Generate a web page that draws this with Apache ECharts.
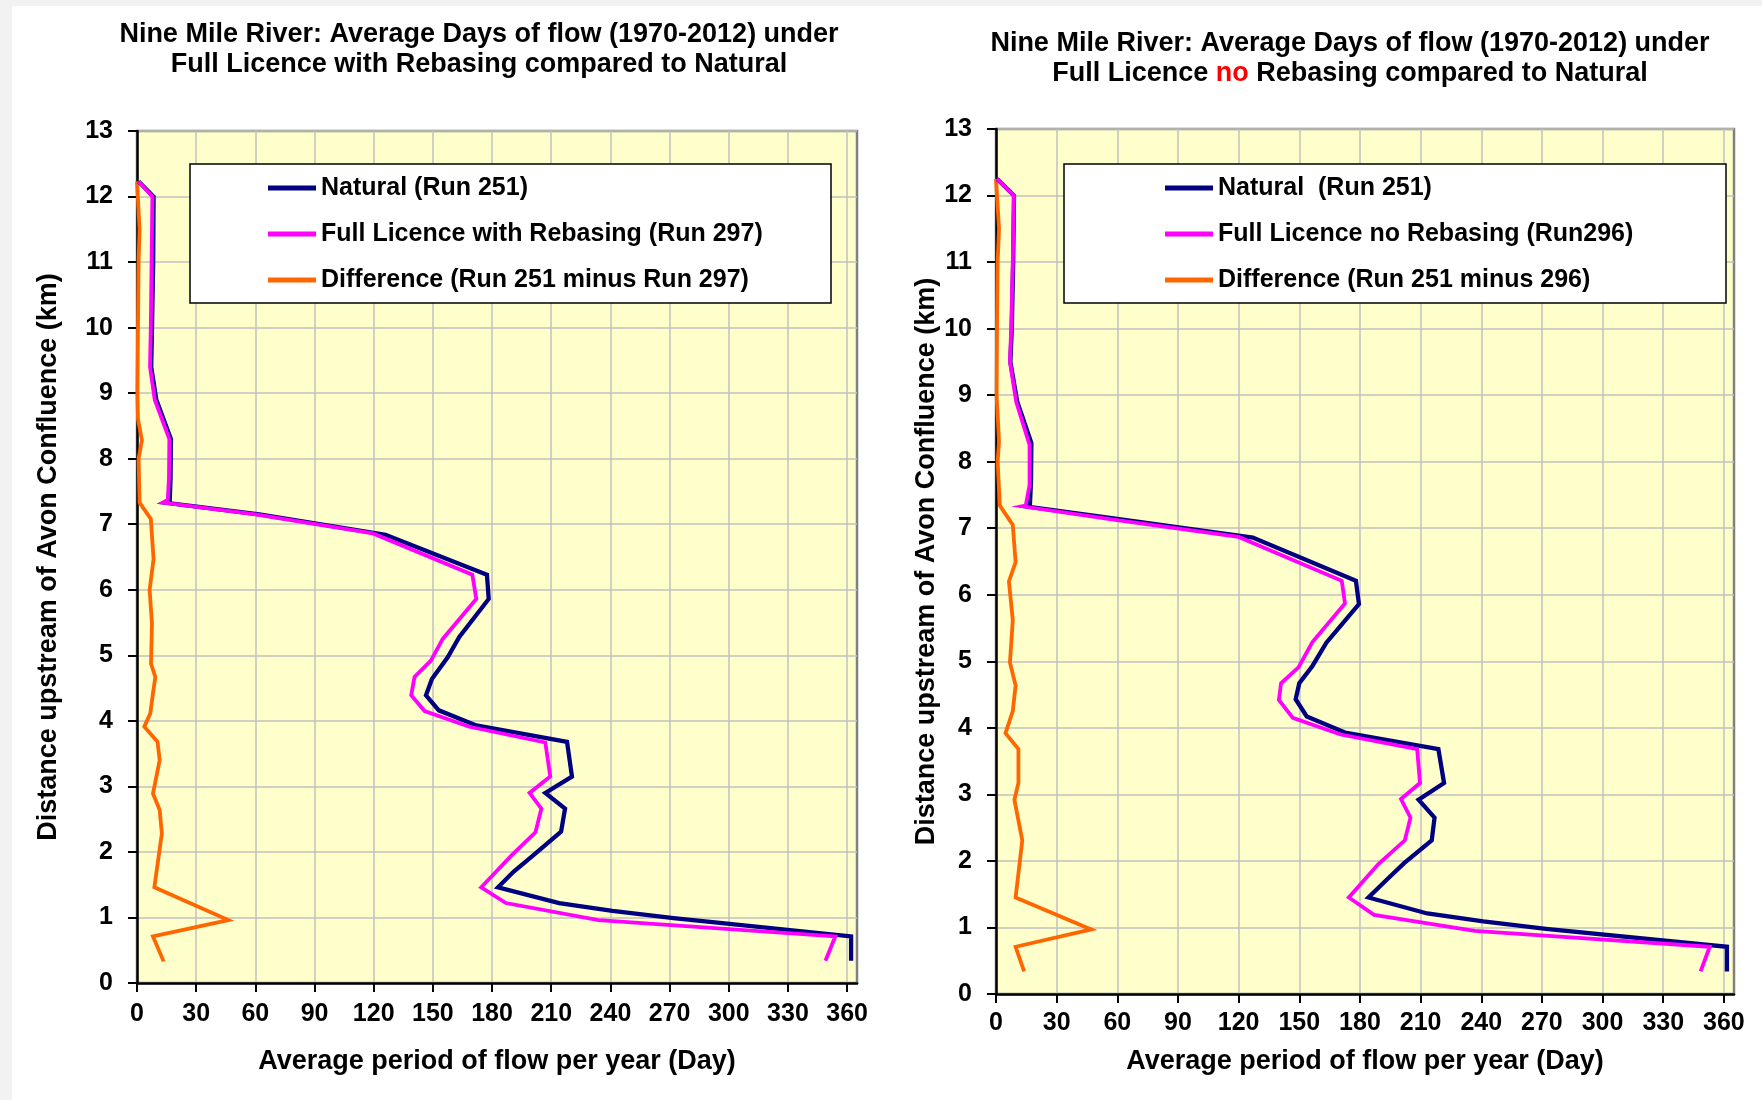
<!DOCTYPE html>
<html>
<head>
<meta charset="utf-8">
<title>Nine Mile River - Average Days of flow</title>
<script src="https://cdn.jsdelivr.net/npm/echarts@6/dist/echarts.min.js"></script>
<style>
  html, body { margin: 0; padding: 0; background: #fff; }
  #chart { width: 1762px; height: 1100px; }
</style>
</head>
<body>
<div id="chart"></div>
<script>
// points are [days of flow per year, km upstream of Avon confluence]
const dayTicks = [0, 30, 60, 90, 120, 150, 180, 210, 240, 270, 300, 330, 360];

// left chart: full licence with rebasing
const naturalA = [
  [0.8, 12.23], [8.4, 12.0], [8.2, 11.0], [7.6, 10.0], [7.2, 9.4], [9.8, 8.9], [17.2, 8.3], [17.0, 7.7],
  [16.6, 7.37], [13.8, 7.33], [62, 7.15], [126, 6.84], [177.4, 6.23], [178.3, 5.86], [163.4, 5.28],
  [157.5, 4.97], [149.5, 4.64], [146.5, 4.39], [153, 4.16], [172, 3.93], [218, 3.68], [220.5, 3.15],
  [207, 2.9], [217, 2.66], [215, 2.31], [201, 1.95], [191, 1.7], [183, 1.46], [214, 1.22], [241, 1.1],
  [272, 0.99], [362, 0.71], [362, 0.34]
];
const rebasedA = [
  [0.8, 12.23], [7.8, 12.0], [7.4, 11.0], [7.0, 10.0], [6.6, 9.4], [9.0, 8.9], [16.4, 8.3], [16.2, 7.7],
  [15.6, 7.37], [13.2, 7.33], [60, 7.15], [119.6, 6.86], [170, 6.23], [172, 5.86], [155, 5.25],
  [149, 4.92], [140.7, 4.67], [139, 4.39], [145.8, 4.15], [168.5, 3.91], [207, 3.67], [209.5, 3.15],
  [199, 2.9], [205, 2.66], [202, 2.3], [190, 1.95], [174.5, 1.46], [187, 1.22], [234, 0.96],
  [354, 0.71], [349, 0.34]
];
const diffA = [
  [0, 12.23], [1.3, 11.5], [0.8, 11.0], [0.5, 10.0], [0.2, 9.0], [0.5, 8.6], [2.5, 8.28], [0.8, 8.0],
  [1.3, 7.33], [7, 7.08], [8.4, 6.47], [6.4, 6.0], [7.6, 5.48], [7.1, 4.87], [9.3, 4.67], [8.1, 4.42],
  [6.7, 4.11], [3.7, 3.91], [10.4, 3.68], [11.5, 3.4], [8.1, 2.89], [11.5, 2.64], [12.6, 2.28],
  [8.8, 1.46], [46.3, 0.96], [8.1, 0.71], [13.5, 0.33]
];

// right chart: full licence no rebasing
const naturalB = [
  [0.6, 12.25], [8.9, 12.0], [8.5, 11.0], [7.8, 10.0], [7.1, 9.5], [10.5, 8.9], [17.5, 8.28], [17.3, 7.7],
  [16.8, 7.37], [14.5, 7.33], [60, 7.14], [127, 6.86], [178, 6.21], [179.5, 5.86], [163.4, 5.28],
  [156.5, 4.93], [150, 4.67], [148.2, 4.43], [153.7, 4.17], [172.6, 3.93], [218.8, 3.68], [221.6, 3.17],
  [209, 2.92], [216.9, 2.65], [215.5, 2.31], [202, 1.97], [194, 1.74], [184.2, 1.45], [213.3, 1.21],
  [241, 1.09], [272, 0.98], [361.5, 0.71], [361.5, 0.34]
];
const noRebaseB = [
  [0.6, 12.25], [8.9, 12.0], [8.3, 11.0], [7.5, 10.0], [6.9, 9.5], [10.0, 8.9], [16.6, 8.25], [16.6, 7.65],
  [14.7, 7.34], [13.0, 7.33], [58, 7.13], [120, 6.87], [171, 6.21], [172.6, 5.87], [156.5, 5.29],
  [149.6, 4.91], [141, 4.67], [139.9, 4.42], [146.8, 4.15], [170.4, 3.9], [208.3, 3.68], [209.7, 3.17],
  [200.3, 2.93], [205, 2.65], [202.2, 2.31], [189, 1.95], [174.5, 1.45], [187, 1.19], [236.8, 0.95],
  [353, 0.71], [348.5, 0.34]
];
const diffB = [
  [0, 12.25], [1.5, 11.5], [0.8, 11.0], [0.5, 10.0], [0.3, 9.0], [1.5, 8.3], [0.8, 8.0], [1.9, 7.34],
  [8.3, 7.05], [9.7, 6.49], [6.4, 6.2], [8.3, 5.62], [6.9, 4.98], [9.7, 4.64], [8.3, 4.25], [4.7, 3.92],
  [11.1, 3.68], [11.1, 3.17], [9.1, 2.92], [13, 2.31], [9.7, 1.45], [47.1, 0.97], [9.7, 0.71], [13.9, 0.34]
];

const namesA = ['Natural (Run 251)', 'Full Licence with Rebasing (Run 297)', 'Difference (Run 251 minus Run 297)'];
const namesB = ['Natural  (Run 251)', 'Full Licence no Rebasing (Run296)', 'Difference (Run 251 minus 296)'];

const FONT = '"Liberation Sans", Arial, sans-serif';
const NAVY = '#000080', PINK = '#ff00ff', ORANGE = '#ff6600';

const chart = echarts.init(document.getElementById('chart'));

const txt = (size) => ({ color: '#000', fontFamily: FONT, fontWeight: 'bold', fontSize: size });

function makeX(gridIndex, nameGap, labelMargin) {
  return {
    type: 'value', gridIndex: gridIndex, min: 0, max: 365, interval: 30,
    axisLine: { show: true, onZero: false, lineStyle: { color: '#000', width: 2.5 } },
    axisTick: { show: true, length: 9, customValues: dayTicks, lineStyle: { color: '#000', width: 2 } },
    axisLabel: Object.assign({ margin: labelMargin, customValues: dayTicks }, txt(25)),
    splitLine: { show: true, lineStyle: { color: '#c0c0c0', width: 1.5 } },
    name: 'Average period of flow per year (Day)',
    nameLocation: 'middle', nameGap: nameGap,
    nameTextStyle: txt(27)
  };
}

function makeY(gridIndex, nameGap) {
  return {
    type: 'value', gridIndex: gridIndex, min: 0, max: 13, interval: 1,
    axisLine: { show: true, onZero: false, lineStyle: { color: '#000', width: 2.5 } },
    axisTick: { show: true, length: 9, lineStyle: { color: '#000', width: 2 } },
    axisLabel: Object.assign({ margin: 24 }, txt(25)),
    splitLine: { show: true, lineStyle: { color: '#c0c0c0', width: 1.5 } },
    name: 'Distance upstream of Avon Confluence (km)',
    nameLocation: 'middle', nameRotate: 90, nameGap: nameGap,
    nameTextStyle: txt(27)
  };
}

function line(name, data, color, idx, width) {
  return {
    name: name, type: 'line', xAxisIndex: idx, yAxisIndex: idx, data: data,
    showSymbol: false, symbol: 'none', clip: false, z: 3,
    lineStyle: { color: color, width: width, join: 'miter' },
    itemStyle: { color: color }
  };
}

function legend(names, left) {
  return {
    data: names, orient: 'vertical', left: left, top: 175, padding: 0,
    icon: 'rect', itemWidth: 48, itemHeight: 5, itemGap: 20,
    selectedMode: false, z: 10,
    textStyle: Object.assign({ lineHeight: 26 }, txt(25))
  };
}

const option = {
  animation: false,
  backgroundColor: '#fff',
  grid: [
    { left: 137, top: 131, width: 720, height: 852, show: true, backgroundColor: '#ffffcc',
      borderColor: '#808080', borderWidth: 2.5, containLabel: false, outerBoundsMode: 'none' },
    { left: 996, top: 129, width: 738, height: 865, show: true, backgroundColor: '#ffffcc',
      borderColor: '#808080', borderWidth: 2.5, containLabel: false, outerBoundsMode: 'none' }
  ],
  xAxis: [makeX(0, 65, 19), makeX(1, 54, 17)],
  yAxis: [makeY(0, 75), makeY(1, 56)],
  legend: [legend(namesA, 268), legend(namesB, 1165)],
  series: [
    line(namesA[2], diffA, ORANGE, 0, 3.8),
    line(namesA[0], naturalA, NAVY, 0, 4.3),
    line(namesA[1], rebasedA, PINK, 0, 3.8),
    line(namesB[2], diffB, ORANGE, 1, 3.8),
    line(namesB[0], naturalB, NAVY, 1, 4.3),
    line(namesB[1], noRebaseB, PINK, 1, 3.8)
  ],
  graphic: [
    { type: 'rect', z: 0, silent: true, shape: { x: 0, y: 0, width: 1762, height: 6 }, style: { fill: '#f2f2f2' } },
    { type: 'rect', z: 0, silent: true, shape: { x: 0, y: 0, width: 12, height: 1100 }, style: { fill: '#f2f2f2' } },
    // legend boxes
    { type: 'rect', z: 5, silent: true, shape: { x: 190, y: 164, width: 641, height: 139 },
      style: { fill: '#fff', stroke: '#000', lineWidth: 1.5 } },
    { type: 'rect', z: 5, silent: true, shape: { x: 1064, y: 164, width: 662, height: 139 },
      style: { fill: '#fff', stroke: '#000', lineWidth: 1.5 } },
    // titles
    { type: 'text', z: 5, x: 479, y: 35, style: {
        text: 'Nine Mile River: Average Days of flow (1970-2012) under',
        align: 'center', verticalAlign: 'middle', fill: '#000', font: 'bold 27px ' + FONT } },
    { type: 'text', z: 5, x: 479, y: 65, style: {
        text: 'Full Licence with Rebasing compared to Natural',
        align: 'center', verticalAlign: 'middle', fill: '#000', font: 'bold 27px ' + FONT } },
    { type: 'text', z: 5, x: 1350, y: 44, style: {
        text: 'Nine Mile River: Average Days of flow (1970-2012) under',
        align: 'center', verticalAlign: 'middle', fill: '#000', font: 'bold 27px ' + FONT } },
    { type: 'text', z: 5, x: 1350, y: 74, style: {
        text: '{b|Full Licence }{r|no}{b| Rebasing compared to Natural}',
        align: 'center', verticalAlign: 'middle',
        rich: {
          b: { fill: '#000', fontFamily: FONT, fontWeight: 'bold', fontSize: 27 },
          r: { fill: '#ff0000', fontFamily: FONT, fontWeight: 'bold', fontSize: 27 }
        } } }
  ]
};

chart.setOption(option);
</script>
</body>
</html>
